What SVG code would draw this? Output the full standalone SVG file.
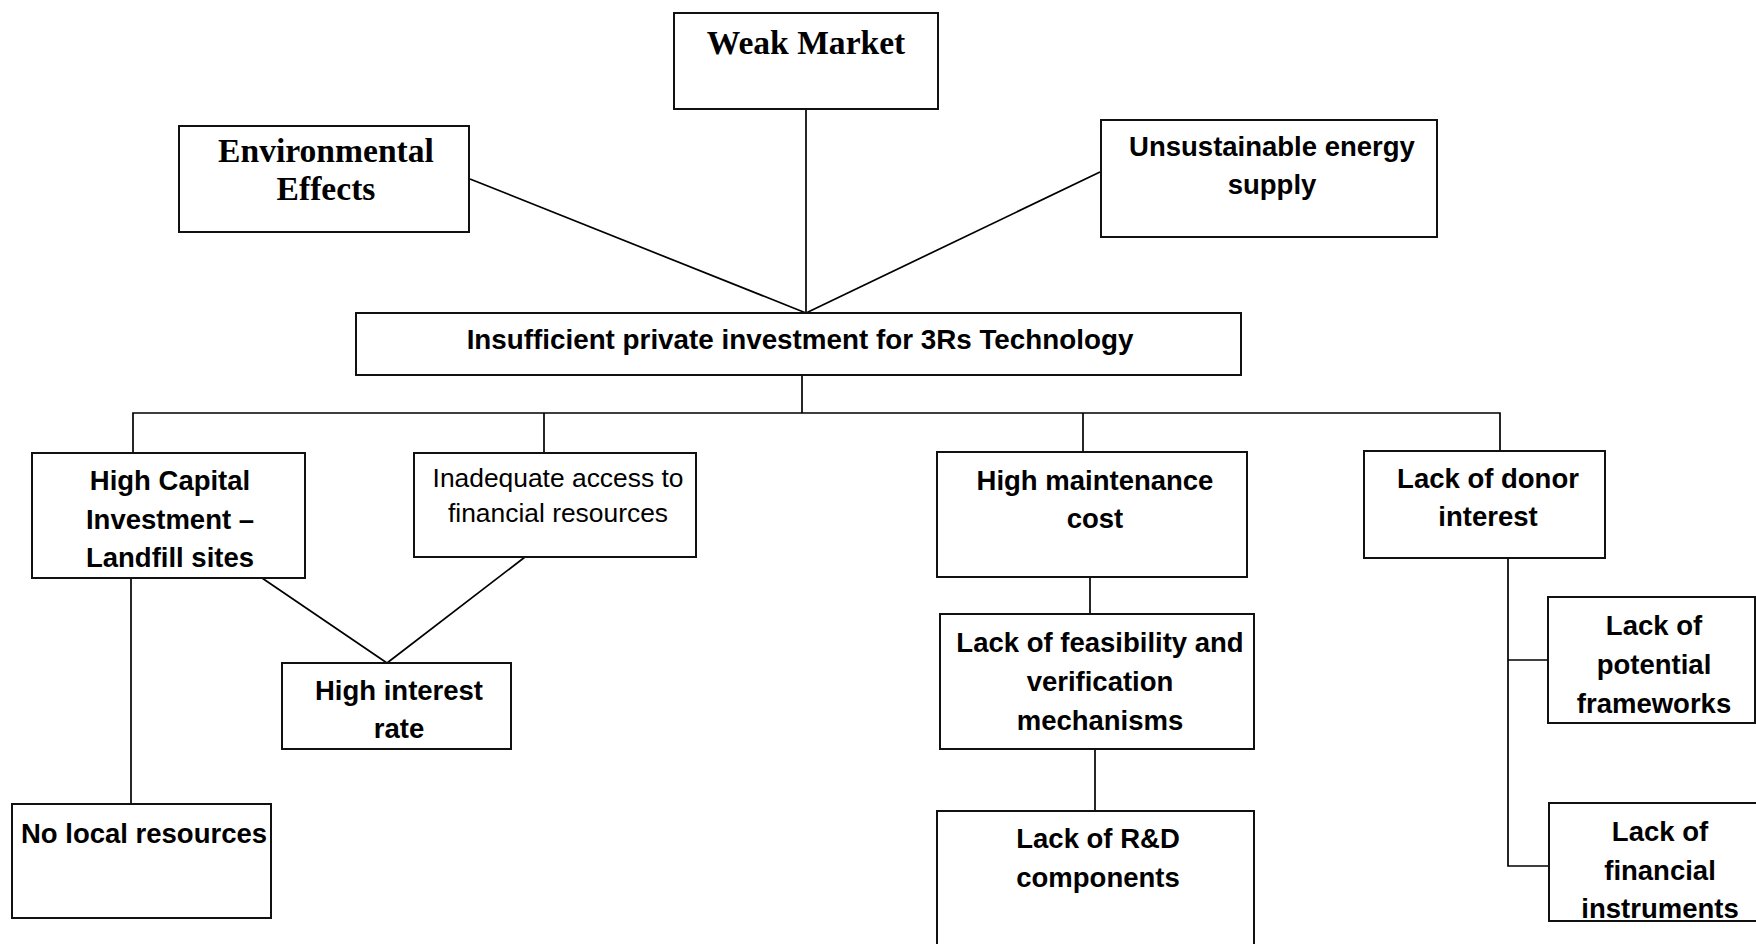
<svg xmlns="http://www.w3.org/2000/svg" width="1756" height="944" viewBox="0 0 1756 944">
  <style>
    .box { fill: #ffffff; stroke: #111111; stroke-width: 2; }
    .link { fill: none; stroke: #000000; stroke-width: 1.7; }
    .serif { font-family: "Liberation Serif", "Times New Roman", serif; font-weight: bold; font-size: 33.6px; fill: #000; text-anchor: middle; }
    .bold { font-family: "Liberation Sans", Arial, sans-serif; font-weight: bold; font-size: 27.5px; fill: #000; text-anchor: middle; }
    .plain { font-family: "Liberation Sans", Arial, sans-serif; font-size: 26.4px; fill: #000; text-anchor: middle; }
  </style>
  <rect x="0" y="0" width="1756" height="944" fill="#ffffff"/>

  <!-- connectors -->
  <g id="connectors">
    <line class="link" x1="806" y1="109" x2="806" y2="313"/>
    <line class="link" x1="470" y1="179" x2="806" y2="313"/>
    <line class="link" x1="1100" y1="172" x2="806" y2="313"/>
    <line class="link" x1="802" y1="375" x2="802" y2="413"/>
    <polyline class="link" points="133,453 133,413 1500,413 1500,451"/>
    <line class="link" x1="544" y1="413" x2="544" y2="453"/>
    <line class="link" x1="1083" y1="413" x2="1083" y2="452"/>
    <line class="link" x1="262" y1="578" x2="387" y2="663"/>
    <line class="link" x1="525" y1="557" x2="387" y2="663"/>
    <line class="link" x1="131" y1="578" x2="131" y2="804"/>
    <line class="link" x1="1090" y1="577" x2="1090" y2="614"/>
    <line class="link" x1="1095" y1="749" x2="1095" y2="811"/>
    <polyline class="link" points="1508,558 1508,866 1549,866"/>
    <line class="link" x1="1508" y1="660" x2="1548" y2="660"/>
  </g>

  <g id="weak-market">
    <rect class="box" x="674" y="13" width="264" height="96"/>
    <text class="serif" x="806" y="54">Weak Market</text>
  </g>

  <g id="environmental-effects">
    <rect class="box" x="179" y="126" width="290" height="106"/>
    <text class="serif" x="326" y="162">Environmental</text>
    <text class="serif" x="326" y="200">Effects</text>
  </g>

  <g id="unsustainable-energy">
    <rect class="box" x="1101" y="120" width="336" height="117"/>
    <text class="bold" x="1272" y="156">Unsustainable energy</text>
    <text class="bold" x="1272" y="194">supply</text>
  </g>

  <g id="insufficient-investment">
    <rect class="box" x="356" y="313" width="885" height="62"/>
    <text class="bold" x="800" y="349" style="font-size:27.8px">Insufficient private investment for 3Rs Technology</text>
  </g>

  <g id="high-capital">
    <rect class="box" x="32" y="453" width="273" height="125"/>
    <text class="bold" x="170" y="490">High Capital</text>
    <text class="bold" x="170" y="529">Investment –</text>
    <text class="bold" x="170" y="567">Landfill sites</text>
  </g>

  <g id="inadequate-access">
    <rect class="box" x="414" y="453" width="282" height="104"/>
    <text class="plain" x="558" y="487">Inadequate access to</text>
    <text class="plain" x="558" y="522">financial resources</text>
  </g>

  <g id="high-interest">
    <rect class="box" x="282" y="663" width="229" height="86"/>
    <text class="bold" x="399" y="700">High interest</text>
    <text class="bold" x="399" y="738">rate</text>
  </g>

  <g id="no-local-resources">
    <rect class="box" x="12" y="804" width="259" height="114"/>
    <text class="bold" x="144" y="843">No local resources</text>
  </g>

  <g id="high-maintenance">
    <rect class="box" x="937" y="452" width="310" height="125"/>
    <text class="bold" x="1095" y="490">High maintenance</text>
    <text class="bold" x="1095" y="528">cost</text>
  </g>

  <g id="feasibility">
    <rect class="box" x="940" y="614" width="314" height="135"/>
    <text class="bold" x="1100" y="652">Lack of feasibility and</text>
    <text class="bold" x="1100" y="691">verification</text>
    <text class="bold" x="1100" y="730">mechanisms</text>
  </g>

  <g id="rnd-components">
    <rect class="box" x="937" y="811" width="317" height="150"/>
    <text class="bold" x="1098" y="848">Lack of R&amp;D</text>
    <text class="bold" x="1098" y="887">components</text>
  </g>

  <g id="donor-interest">
    <rect class="box" x="1364" y="451" width="241" height="107"/>
    <text class="bold" x="1488" y="488">Lack of donor</text>
    <text class="bold" x="1488" y="526">interest</text>
  </g>

  <g id="potential-frameworks">
    <rect class="box" x="1548" y="597" width="207" height="126"/>
    <text class="bold" x="1654" y="635">Lack of</text>
    <text class="bold" x="1654" y="674">potential</text>
    <text class="bold" x="1654" y="713">frameworks</text>
  </g>

  <g id="financial-instruments">
    <rect class="box" x="1549" y="803" width="215" height="118"/>
    <text class="bold" x="1660" y="841">Lack of</text>
    <text class="bold" x="1660" y="880">financial</text>
    <text class="bold" x="1660" y="918">instruments</text>
  </g>
</svg>
